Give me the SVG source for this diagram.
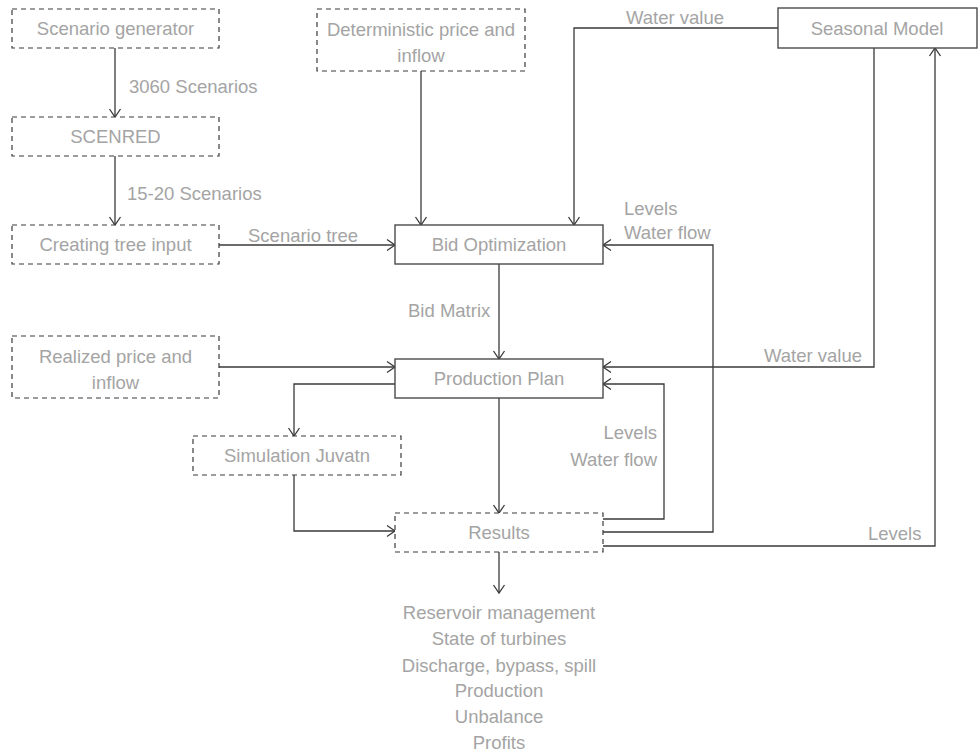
<svg xmlns="http://www.w3.org/2000/svg" width="978" height="753" viewBox="0 0 978 753">
<style>
text{font-family:"Liberation Sans",Arial,sans-serif;font-size:18.5px;fill:#a4a4a4}
.m{text-anchor:middle}
.e{text-anchor:end}
.solid{fill:#fff;stroke:#4a4a4a;stroke-width:1.4}
.dash{fill:#fff;stroke:#3a3a3a;stroke-width:1.2;stroke-dasharray:5 4}
.c{fill:none;stroke:#3a3a3a;stroke-width:1.3}
</style>
<defs>
<marker id="a" markerUnits="userSpaceOnUse" markerWidth="14" markerHeight="14" viewBox="-10 -7 12 14" refX="0" refY="0" orient="auto">
<path d="M-8,-5.5 L0,0 L-8,5.5" fill="none" stroke="#3a3a3a" stroke-width="1.3"/>
</marker>
</defs>
<rect width="978" height="753" fill="#fff"/>
<g id="connectors">
<path class="c" d="M115,48 V117" marker-end="url(#a)"/>
<path class="c" d="M115,156 V225" marker-end="url(#a)"/>
<path class="c" d="M219,245 H395" marker-end="url(#a)"/>
<path class="c" d="M421,71 V225" marker-end="url(#a)"/>
<path class="c" d="M778,28 H574 V225" marker-end="url(#a)"/>
<path class="c" d="M499,264 V359" marker-end="url(#a)"/>
<path class="c" d="M219,367 H395" marker-end="url(#a)"/>
<path class="c" d="M395,384 H294 V436" marker-end="url(#a)"/>
<path class="c" d="M294,475 V531 H395" marker-end="url(#a)"/>
<path class="c" d="M499,398 V513" marker-end="url(#a)"/>
<path class="c" d="M874,48 V367 H603" marker-end="url(#a)"/>
<path class="c" d="M603,519 H664 V384 H603" marker-end="url(#a)"/>
<path class="c" d="M603,532 H713 V245 H603" marker-end="url(#a)"/>
<path class="c" d="M603,546 H935 V48" marker-end="url(#a)"/>
<path class="c" d="M499,552 V593" marker-end="url(#a)"/>
<text x="129" y="93">3060 Scenarios</text>
<text x="127" y="200">15-20 Scenarios</text>
<text x="248" y="242">Scenario tree</text>
<text x="626" y="24">Water value</text>
<text x="624" y="215">Levels</text>
<text x="624" y="239">Water flow</text>
<text x="408" y="317">Bid Matrix</text>
<text class="e" x="862" y="362">Water value</text>
<text class="e" x="657" y="439">Levels</text>
<text class="e" x="657" y="466">Water flow</text>
<text x="868" y="540">Levels</text>
</g>
<g id="scenario-generator">
<rect class="dash" x="12" y="9" width="207" height="39"/>
<text class="m" x="115.5" y="35">Scenario generator</text>
</g>
<g id="scenred">
<rect class="dash" x="12" y="117" width="207" height="39"/>
<text class="m" x="115.5" y="143">SCENRED</text>
</g>
<g id="creating-tree-input">
<rect class="dash" x="12" y="225" width="207" height="39"/>
<text class="m" x="115.5" y="251">Creating tree input</text>
</g>
<g id="deterministic">
<rect class="dash" x="317" y="9" width="208" height="62"/>
<text class="m" x="421" y="36">Deterministic price and</text>
<text class="m" x="421" y="62">inflow</text>
</g>
<g id="seasonal-model">
<rect class="solid" x="778" y="8" width="199" height="40"/>
<text class="m" x="877" y="35">Seasonal Model</text>
</g>
<g id="bid-optimization">
<rect class="solid" x="395" y="225" width="208" height="39"/>
<text class="m" x="499" y="251">Bid Optimization</text>
</g>
<g id="realized">
<rect class="dash" x="12" y="336" width="207" height="62"/>
<text class="m" x="115.5" y="363">Realized price and</text>
<text class="m" x="115.5" y="389">inflow</text>
</g>
<g id="production-plan">
<rect class="solid" x="395" y="359" width="208" height="39"/>
<text class="m" x="499" y="385">Production Plan</text>
</g>
<g id="simulation-juvatn">
<rect class="dash" x="193" y="436" width="208" height="39"/>
<text class="m" x="297" y="462">Simulation Juvatn</text>
</g>
<g id="results">
<rect class="dash" x="395" y="513" width="208" height="39"/>
<text class="m" x="499" y="539">Results</text>
</g>
<g id="outputs">
<text class="m" x="499" y="619">Reservoir management</text>
<text class="m" x="499" y="645">State of turbines</text>
<text class="m" x="499" y="672">Discharge, bypass, spill</text>
<text class="m" x="499" y="697">Production</text>
<text class="m" x="499" y="723">Unbalance</text>
<text class="m" x="499" y="749">Profits</text>
</g>
</svg>
